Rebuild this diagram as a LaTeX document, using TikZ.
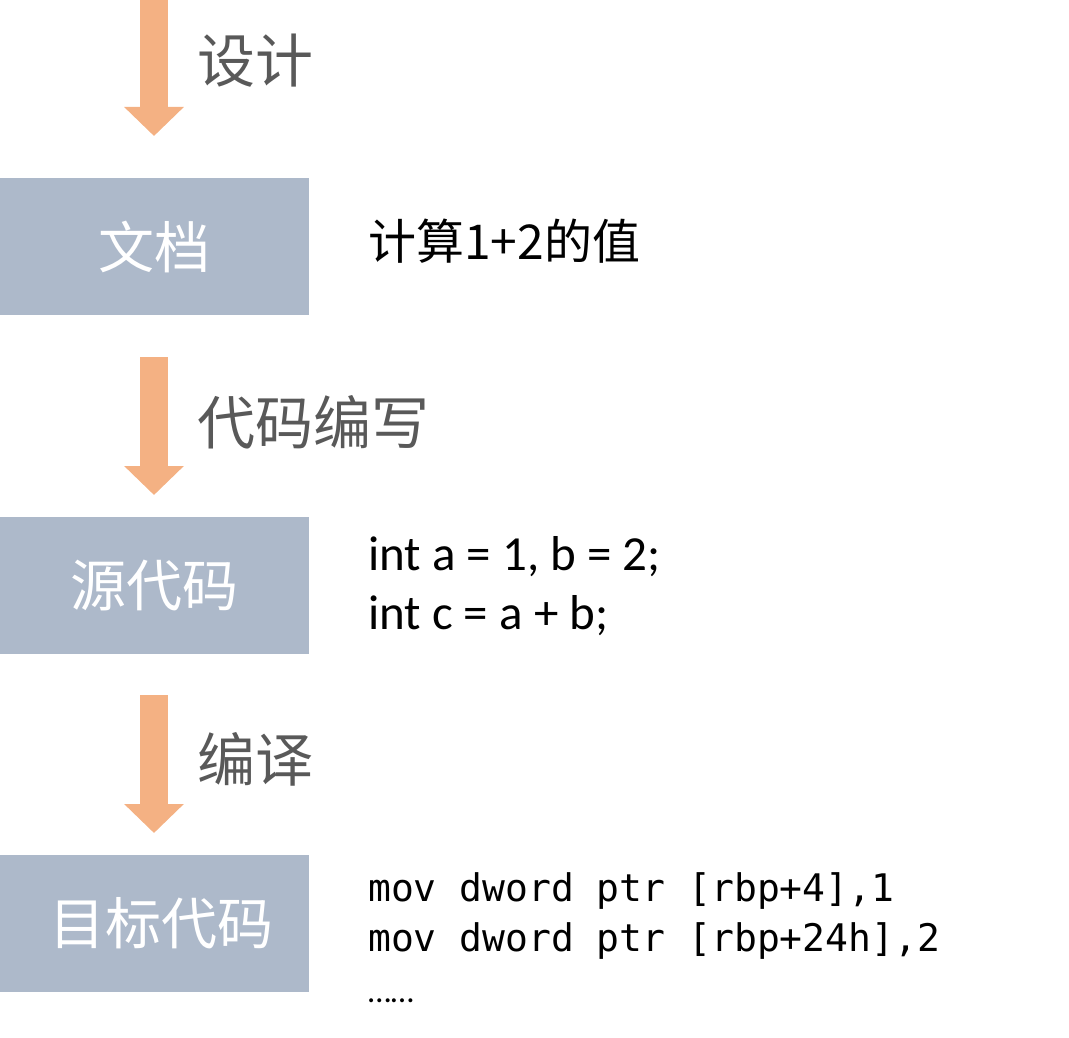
\documentclass[tikz,border=0pt]{standalone}
\usepackage{fontspec}
\setmainfont{Carlito}
\newfontfamily\cjk{Noto Sans CJK SC}
\newfontfamily\codefont{DejaVu Sans Mono}
\usetikzlibrary{arrows.meta}
\definecolor{arrowc}{HTML}{F4B183}
\definecolor{boxc}{HTML}{ADB9CA}
\definecolor{labelc}{HTML}{595959}
\begin{document}
\begin{tikzpicture}[x=1pt,y=-1pt,
  stagebox/.style={fill=boxc, minimum width=309pt, minimum height=137pt, inner sep=0pt,
    anchor=north west, text=white, font=\cjk\fontsize{56}{60}\selectfont},
  flowarrow/.style={draw=arrowc, line width=28pt, -{Triangle[width=58pt,length=29pt]}},
  steplabel/.style={anchor=west, text=labelc, font=\cjk\fontsize{58}{62}\selectfont, inner sep=0pt},
  desctext/.style={anchor=base west, inner sep=0pt, text=black, font=\fontsize{49}{56}\selectfont},
  desccjk/.style={anchor=base west, inner sep=0pt, text=black, font=\cjk\fontsize{48}{52}\selectfont},
  codetext/.style={anchor=base west, inner sep=0pt, text=black, font=\codefont\fontsize{38}{46}\selectfont}
]
\useasboundingbox (0,0) rectangle (1069,1038);

% boxes
\node[stagebox] (doc) at (0,178) {文档};
\node[stagebox] (src) at (0,517) {源代码};
\node[stagebox] (obj) at (0,855) {\hspace*{14pt}目标代码};

% arrows
\coordinate (a1s) at (154,0);
\coordinate (a1e) at (154,136);
\coordinate (a2s) at (154,357);
\coordinate (a2e) at (154,495);
\coordinate (a3s) at (154,695);
\coordinate (a3e) at (154,833);
\draw[flowarrow] (a1s) -- (a1e);
\draw[flowarrow] (a2s) -- (a2e);
\draw[flowarrow] (a3s) -- (a3e);

% step labels
\node[steplabel] (l1) at (197,61) {设计};
\node[steplabel] (l2) at (197,422) {代码编写};
\node[steplabel] (l3) at (197,759) {编译};

% descriptions
\node[desccjk] (d1) at (368,259) {计算1+2的值};
\node[desctext] (d2a) at (368,570) {int a = 1, b = 2;};
\node[desctext] (d2b) at (368,629) {int c = a + b;};
\node[codetext] (c1) at (368,901) {mov dword ptr [rbp+4],1};
\node[codetext] (c2) at (368,951) {mov dword ptr [rbp+24h],2};
\node[desctext, font=\fontsize{33}{36}\selectfont] (c3) at (368,1002) {……};
\end{tikzpicture}
\end{document}
